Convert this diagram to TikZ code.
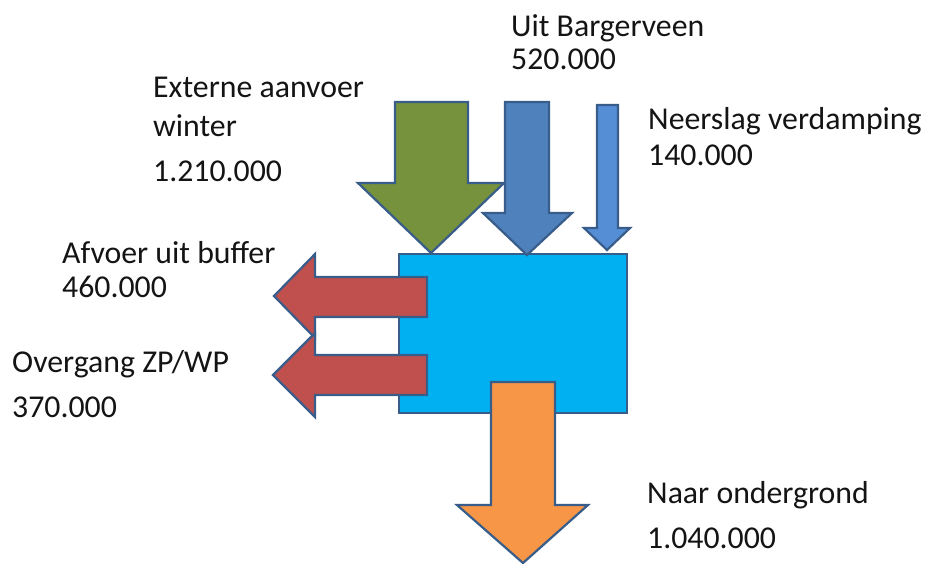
\documentclass[tikz,border=0pt]{standalone}
\usepackage{fontspec}
\setmainfont{Carlito}
\definecolor{edge}{HTML}{385D8A}
\definecolor{boxblue}{HTML}{00B0F0}
\definecolor{olive}{HTML}{76923C}
\definecolor{steel}{HTML}{4F81BD}
\definecolor{lightsteel}{HTML}{558ED5}
\definecolor{brick}{HTML}{C0504D}
\definecolor{tangerine}{HTML}{F79646}
\definecolor{ink}{HTML}{141414}
\tikzset{
  flow/.style={draw=edge, line width=2.2pt, line join=miter},
  lbl/.style={anchor=base west, inner sep=0pt, text=ink, font=\fontsize{31.8}{38}\selectfont}
}
\begin{document}
\begin{tikzpicture}[x=1pt,y=-1pt]
\useasboundingbox (0,0) rectangle (925,564);
% buffer box
\node[flow, fill=boxblue, rectangle, minimum width=228pt, minimum height=159pt, inner sep=0pt, anchor=north west] (buffer) at (398,253) {};
% inflow arrows
\draw[flow, fill=olive] (395,102) -- (468,102) -- (468,183) -- (504,183) -- (431,253) -- (358,183) -- (395,183) -- cycle;
\draw[flow, fill=steel] (505,102) -- (549,102) -- (549,213) -- (572,213) -- (527,255) -- (483,213) -- (505,213) -- cycle;
\draw[flow, fill=lightsteel] (597,105) -- (618,105) -- (618,228) -- (630,228) -- (607,250) -- (584,228) -- (597,228) -- cycle;
% outflow arrows
\draw[flow, fill=brick] (427,277) -- (427,317) -- (315,317) -- (315,338) -- (274,296) -- (315,254) -- (315,277) -- cycle;
\draw[flow, fill=brick] (427,355) -- (427,395) -- (315,395) -- (315,417) -- (273,375) -- (315,333) -- (315,355) -- cycle;
\draw[flow, fill=tangerine] (491,382) -- (555,382) -- (555,505) -- (588,505) -- (523,563) -- (457,505) -- (491,505) -- cycle;
% labels
\node[lbl] (ub1) at (511,37) {Uit Bargerveen};
\node[lbl] (ub2) at (511,70) {520.000};
\node[lbl] (ea1) at (153,98) {Externe aanvoer};
\node[lbl] (ea2) at (153,137) {winter};
\node[lbl] (ea3) at (153,182) {1.210.000};
\node[lbl] (nv1) at (648,130) {Neerslag verdamping};
\node[lbl] (nv2) at (648,165) {140.000};
\node[lbl] (af1) at (62,263) {Afvoer uit buffer};
\node[lbl] (af2) at (62,297) {460.000};
\node[lbl] (ov1) at (12,372) {Overgang ZP/WP};
\node[lbl] (ov2) at (12,417) {370.000};
\node[lbl] (no1) at (647,503) {Naar ondergrond};
\node[lbl] (no2) at (647,548) {1.040.000};
\end{tikzpicture}
\end{document}
